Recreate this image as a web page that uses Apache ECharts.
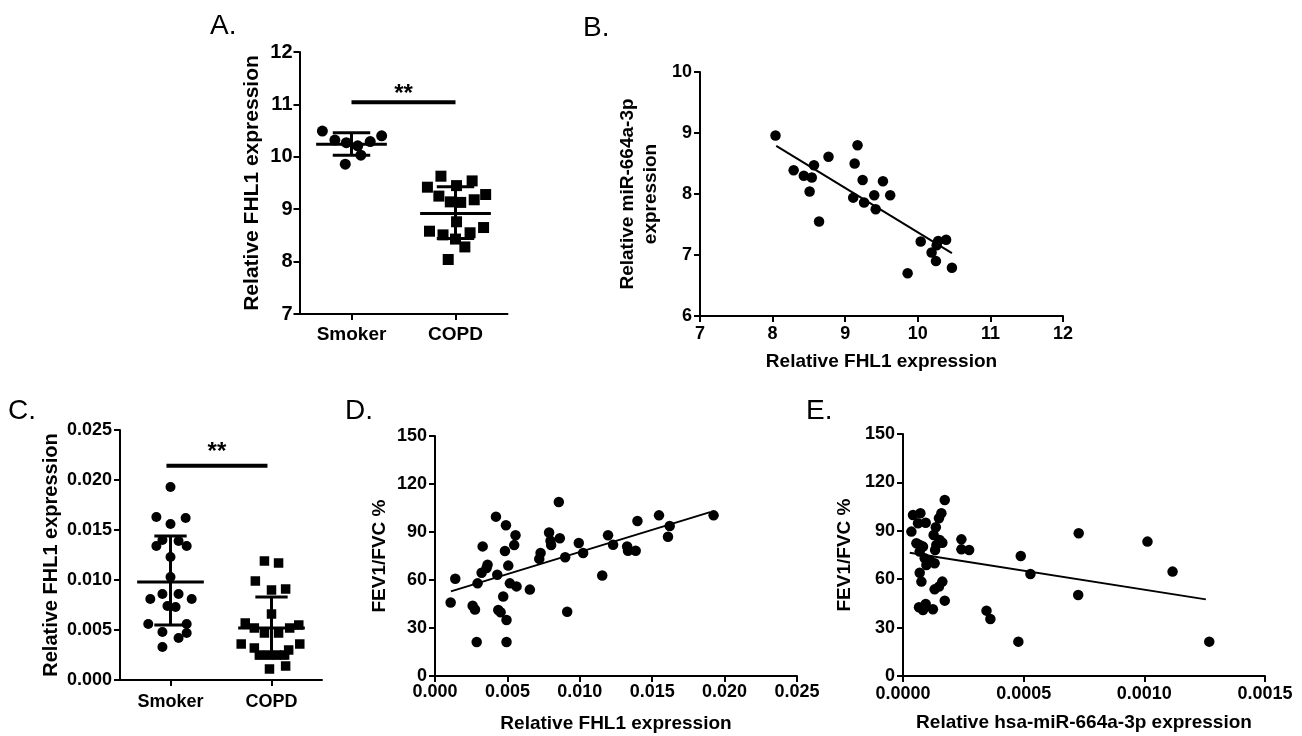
<!DOCTYPE html>
<html><head><meta charset="utf-8">
<script src="https://cdn.jsdelivr.net/npm/echarts@6/dist/echarts.min.js"></script>
<style>html,body{margin:0;padding:0;background:#fff}#c{width:1302px;height:736px}</style>
</head><body><div id="c"></div>
<script>
// ---------- categories ----------
const groups = ['Smoker', 'COPD'];

// ---------- Panel A ----------
const aSmokerValues = [10.49, 10.32, 10.27, 10.21, 10.03, 10.29, 10.40, 9.86];
const aSmokerJitter = [-0.28, -0.16, -0.05, 0.06, 0.09, 0.18, 0.29, -0.06];
const aCopdValues = [9.63, 9.42, 9.45, 9.54, 9.25, 9.14, 9.13, 9.18, 9.28, 8.76, 8.58, 8.51, 8.43, 8.55, 8.65, 8.28, 8.04];
const aCopdJitter = [-0.14, -0.27, 0.01, 0.16, -0.16, -0.05, 0.05, 0.18, 0.29, 0.01, -0.25, -0.12, 0.0, 0.14, 0.27, 0.09, -0.07];
const aMean = [10.24, 8.92];
const aSdLow = [10.03, 8.44];
const aSdHigh = [10.46, 9.43];
const aSigLevel = 11.04;
const aSigLabelLevel = 11.2;

// ---------- Panel B ----------
const bX = [8.04, 8.29, 8.43, 8.54, 8.57, 8.51, 8.64, 8.77, 9.17, 9.13, 9.24, 9.52, 9.11, 9.26, 9.40, 9.62, 9.42, 10.04, 10.28, 10.39, 10.26, 10.19, 10.25, 10.47, 9.86];
const bY = [8.96, 8.39, 8.30, 8.27, 8.47, 8.04, 7.55, 8.61, 8.80, 8.50, 8.23, 8.21, 7.94, 7.86, 7.98, 7.98, 7.75, 7.22, 7.23, 7.25, 7.16, 7.04, 6.90, 6.79, 6.70];
const bFitX = [8.05, 10.47];
const bFitY = [8.79, 7.03];

// ---------- Panel C ----------
const cSmokerValues = [0.0193, 0.0163, 0.0156, 0.0162, 0.0134, 0.0134, 0.0140, 0.0139, 0.0123, 0.0103, 0.0081, 0.0086, 0.0086, 0.0081, 0.0074, 0.0073, 0.0056, 0.0056, 0.0048, 0.0047, 0.0042, 0.0033];
const cSmokerJitter = [0, -0.14, 0, 0.15, -0.14, 0.16, -0.08, 0.08, 0, 0, -0.2, -0.08, 0.08, 0.21, -0.03, 0.05, -0.22, 0.16, -0.08, 0.16, 0.08, -0.08];
const cCopdValues = [0.0119, 0.0117, 0.0099, 0.0090, 0.0091, 0.0066, 0.0057, 0.0052, 0.0047, 0.0047, 0.0052, 0.0055, 0.0036, 0.0036, 0.0032, 0.0030, 0.0025, 0.0025, 0.0025, 0.0025, 0.0011, 0.0014];
const cCopdJitter = [-0.07, 0.07, -0.16, 0, 0.14, 0, -0.26, -0.17, -0.07, 0.07, 0.18, 0.27, -0.30, 0.28, -0.17, 0.17, -0.12, -0.03, 0.05, 0.13, -0.02, 0.14];
const cMean = [0.0098, 0.0052];
const cSdLow = [0.0055, 0.0022];
const cSdHigh = [0.0144, 0.0083];
const cSigLevel = 0.02143;
const cSigLabelLevel = 0.0228;

// ---------- Panel D ----------
const dX = [0.00108, 0.0014, 0.0026, 0.00276, 0.00288, 0.00294, 0.00322, 0.00329, 0.00356, 0.00363, 0.00421, 0.0043, 0.00437, 0.00453, 0.00471, 0.00483, 0.0049, 0.00494, 0.00494, 0.00506, 0.00517, 0.00547, 0.00556, 0.00563, 0.00655, 0.00729, 0.0072, 0.00788, 0.00798, 0.00802, 0.00855, 0.00862, 0.00899, 0.00913, 0.00993, 0.01023, 0.01155, 0.01195, 0.0123, 0.01327, 0.01333, 0.01386, 0.01398, 0.01547, 0.01621, 0.01609, 0.01924];
const dY = [45.9, 60.8, 43.9, 41.6, 21.2, 57.9, 64.5, 81.0, 67.5, 69.5, 99.6, 63.3, 41.2, 39.8, 49.7, 78.1, 94.2, 35.0, 21.2, 69.0, 57.9, 81.8, 88.0, 56.0, 54.0, 76.9, 73.2, 89.7, 84.5, 81.8, 108.8, 86.1, 74.2, 40.2, 83.1, 76.9, 62.8, 88.0, 82.0, 81.0, 78.3, 78.3, 96.9, 100.4, 93.8, 87.0, 100.4];
const dFitX = [0.0011, 0.0190];
const dFitY = [52.9, 102.4];

// ---------- Panel E ----------
const eX = [0.0000348, 0.0000415, 0.000072, 0.0000622, 0.0000941, 0.0000556, 0.0000692, 0.0000829, 0.0000692, 0.00009, 0.000111, 0.000097, 0.000131, 0.0000692, 0.0000763, 0.000131, 0.000149, 0.000163, 0.000173, 0.0000663, 0.0000829, 0.0000941, 0.000124,
            0.000173, 0.000159, 0.000149, 0.000136, 0.000127, 0.000152, 0.000163, 0.000138, 0.000133, 0.000242, 0.000242, 0.000274,
            0.000346, 0.000362, 0.000478, 0.000488, 0.000528, 0.000728, 0.000726, 0.001013, 0.001117, 0.001269];
const eY = [89.5, 99.8, 100.9, 94.7, 95.0, 82.3, 81.2, 80.2, 77.1, 73.0, 71.9, 68.8, 69.9, 64.0, 58.5, 53.7, 55.4, 58.5, 46.7, 42.6, 40.9, 44.6, 41.4,
            109.1, 100.9, 97.8, 92.2, 87.4, 84.3, 82.6, 81.2, 78.1, 84.7, 78.5, 78.1,
            40.5, 35.3, 21.3, 74.4, 63.2, 88.5, 50.2, 83.3, 64.7, 21.3];
const eFitX = [0.000028, 0.001255];
const eFitY = [76.4, 47.5];

// ---------- helpers ----------
const FONT = "'Liberation Sans', Arial, sans-serif";
const zip = (xs, ys) => xs.map((x, i) => [x, ys[i]]);
const jit = (base, js, vs) => vs.map((v, i) => [base + js[i], v]);
const summary = (m, lo, hi) => m.map((v, i) => [i + 1, v, lo[i], hi[i]]);
const BLACK = { color: '#000', opacity: 1 };

function axisBase() {
  return {
    axisLine: { show: true, onZero: false, lineStyle: { color: '#000', width: 2 } },
    axisTick: { show: true, length: 6, lineStyle: { color: '#000', width: 2 } },
    splitLine: { show: false },
    axisLabel: { color: '#000', fontFamily: FONT, fontWeight: 'bold', fontSize: 18, margin: 8 },
    nameLocation: 'middle',
    nameTextStyle: { color: '#000', fontFamily: FONT, fontWeight: 'bold', fontSize: 19, lineHeight: 23 }
  };
}
function ax(b) {
  const o = axisBase();
  for (const k in b) {
    if (b[k] && typeof b[k] === 'object' && !Array.isArray(b[k]) && o[k] && typeof o[k] === 'object') o[k] = Object.assign({}, o[k], b[k]);
    else o[k] = b[k];
  }
  return o;
}

function errRender(meanHalf, capHalf) {
  return function (params, api) {
    const x = api.value(0), m = api.value(1), lo = api.value(2), hi = api.value(3);
    const a = api.coord([x - meanHalf, m]), b = api.coord([x + meanHalf, m]);
    const t = api.coord([x, hi]), u = api.coord([x, lo]);
    const c1 = api.coord([x - capHalf, hi]), c2 = api.coord([x + capHalf, hi]);
    const d1 = api.coord([x - capHalf, lo]), d2 = api.coord([x + capHalf, lo]);
    const st = { stroke: '#000', lineWidth: 3 };
    return { type: 'group', children: [
      { type: 'line', shape: { x1: a[0], y1: a[1], x2: b[0], y2: b[1] }, style: st },
      { type: 'line', shape: { x1: t[0], y1: t[1], x2: u[0], y2: u[1] }, style: st },
      { type: 'line', shape: { x1: c1[0], y1: c1[1], x2: c2[0], y2: c2[1] }, style: st },
      { type: 'line', shape: { x1: d1[0], y1: d1[1], x2: d2[0], y2: d2[1] }, style: st }
    ] };
  };
}

const chart = echarts.init(document.getElementById('c'), null, { renderer: 'canvas' });

const sigLabel = { show: true, position: 'inside', formatter: '**', color: '#000', opacity: 1, fontFamily: FONT, fontWeight: 'bold', fontSize: 24 };

const option = {
  animation: false,
  backgroundColor: '#fff',
  grid: [
    { left: 299.5, top: 52, width: 208, height: 262 },   // A
    { left: 700, top: 72, width: 363, height: 244 },      // B
    { left: 120, top: 430, width: 202, height: 250 },     // C
    { left: 435, top: 436, width: 362, height: 242 },     // D
    { left: 903, top: 434, width: 362, height: 242 }      // E
  ],
  xAxis: [
    ax({ type: 'category', gridIndex: 0, data: groups, boundaryGap: true,
      axisTick: { alignWithLabel: true }, axisLabel: { fontSize: 19, margin: 11 } }),
    { type: 'value', gridIndex: 0, min: 0.5, max: 2.5, show: false },
    ax({ type: 'value', gridIndex: 1, min: 7, max: 12, interval: 1,
      name: 'Relative FHL1 expression', nameGap: 34, axisLabel: { margin: 9 } }),
    ax({ type: 'category', gridIndex: 2, data: groups, boundaryGap: true,
      axisTick: { alignWithLabel: true }, axisLabel: { fontSize: 18, margin: 13 } }),
    { type: 'value', gridIndex: 2, min: 0.5, max: 2.5, show: false },
    ax({ type: 'value', gridIndex: 3, min: 0, max: 0.025, interval: 0.005,
      name: 'Relative FHL1 expression', nameGap: 36,
      axisLabel: { margin: 7, formatter: v => v.toFixed(3) } }),
    ax({ type: 'value', gridIndex: 4, min: 0, max: 0.0015, interval: 0.0005,
      name: 'Relative hsa-miR-664a-3p expression', nameGap: 35,
      axisLabel: { margin: 9, formatter: v => v.toFixed(4) } })
  ],
  yAxis: [
    ax({ type: 'value', gridIndex: 0, min: 7, max: 12, interval: 1,
      name: 'Relative FHL1 expression', nameRotate: 90, nameGap: 36,
      nameTextStyle: { fontSize: 21 }, axisLabel: { fontSize: 20, margin: 7 } }),
    ax({ type: 'value', gridIndex: 1, min: 6, max: 10, interval: 1,
      name: 'Relative miR-664a-3p\nexpression', nameRotate: 90, nameGap: 38 }),
    ax({ type: 'value', gridIndex: 2, min: 0, max: 0.025, interval: 0.005,
      name: 'Relative FHL1 expression', nameRotate: 90, nameGap: 57,
      nameTextStyle: { fontSize: 20 }, axisLabel: { formatter: v => v.toFixed(3) } }),
    ax({ type: 'value', gridIndex: 3, min: 0, max: 150, interval: 30,
      name: 'FEV1/FVC %', nameRotate: 90, nameGap: 44 }),
    ax({ type: 'value', gridIndex: 4, min: 0, max: 150, interval: 30,
      name: 'FEV1/FVC %', nameRotate: 90, nameGap: 47 })
  ],
  graphic: [
    { type: 'text', left: 210, top: 12, style: { text: 'A.', font: "28px " + FONT, fill: '#000' } },
    { type: 'text', left: 583, top: 14, style: { text: 'B.', font: "28px " + FONT, fill: '#000' } },
    { type: 'text', left: 8, top: 397, style: { text: 'C.', font: "28px " + FONT, fill: '#000' } },
    { type: 'text', left: 345, top: 397, style: { text: 'D.', font: "28px " + FONT, fill: '#000' } },
    { type: 'text', left: 806, top: 397, style: { text: 'E.', font: "28px " + FONT, fill: '#000' } }
  ],
  series: [
    // A
    { type: 'scatter', xAxisIndex: 1, yAxisIndex: 0, symbol: 'circle', symbolSize: 11,
      itemStyle: BLACK, data: jit(1, aSmokerJitter, aSmokerValues) },
    { type: 'scatter', xAxisIndex: 1, yAxisIndex: 0, symbol: 'rect', symbolSize: 11,
      itemStyle: BLACK, data: jit(2, aCopdJitter, aCopdValues) },
    { type: 'custom', xAxisIndex: 1, yAxisIndex: 0, renderItem: errRender(0.34, 0.18),
      data: summary(aMean, aSdLow, aSdHigh), z: 5 },
    { type: 'line', xAxisIndex: 1, yAxisIndex: 0, symbol: 'none',
      lineStyle: { color: '#000', width: 4 }, data: [[1, aSigLevel], [2, aSigLevel]] },
    { type: 'scatter', xAxisIndex: 1, yAxisIndex: 0, symbolSize: 0, itemStyle: BLACK,
      data: [[1.5, aSigLabelLevel]], label: sigLabel },
    // B
    { type: 'scatter', xAxisIndex: 2, yAxisIndex: 1, symbol: 'circle', symbolSize: 10.5,
      itemStyle: BLACK, data: zip(bX, bY) },
    { type: 'line', xAxisIndex: 2, yAxisIndex: 1, symbol: 'none',
      lineStyle: { color: '#000', width: 2 }, data: zip(bFitX, bFitY) },
    // C
    { type: 'scatter', xAxisIndex: 4, yAxisIndex: 2, symbol: 'circle', symbolSize: 10,
      itemStyle: BLACK, data: jit(1, cSmokerJitter, cSmokerValues) },
    { type: 'scatter', xAxisIndex: 4, yAxisIndex: 2, symbol: 'rect', symbolSize: 9.5,
      itemStyle: BLACK, data: jit(2, cCopdJitter, cCopdValues) },
    { type: 'custom', xAxisIndex: 4, yAxisIndex: 2, renderItem: errRender(0.33, 0.16),
      data: summary(cMean, cSdLow, cSdHigh), z: 5 },
    { type: 'line', xAxisIndex: 4, yAxisIndex: 2, symbol: 'none',
      lineStyle: { color: '#000', width: 4 }, data: [[0.96, cSigLevel], [1.96, cSigLevel]] },
    { type: 'scatter', xAxisIndex: 4, yAxisIndex: 2, symbolSize: 0, itemStyle: BLACK,
      data: [[1.46, cSigLabelLevel]], label: sigLabel },
    // D
    { type: 'scatter', xAxisIndex: 5, yAxisIndex: 3, symbol: 'circle', symbolSize: 10.5,
      itemStyle: BLACK, data: zip(dX, dY) },
    { type: 'line', xAxisIndex: 5, yAxisIndex: 3, symbol: 'none',
      lineStyle: { color: '#000', width: 2 }, data: zip(dFitX, dFitY) },
    // E
    { type: 'scatter', xAxisIndex: 6, yAxisIndex: 4, symbol: 'circle', symbolSize: 10.5,
      itemStyle: BLACK, data: zip(eX, eY) },
    { type: 'line', xAxisIndex: 6, yAxisIndex: 4, symbol: 'none',
      lineStyle: { color: '#000', width: 2 }, data: zip(eFitX, eFitY) }
  ]
};
chart.setOption(option);
</script>
</body></html>
